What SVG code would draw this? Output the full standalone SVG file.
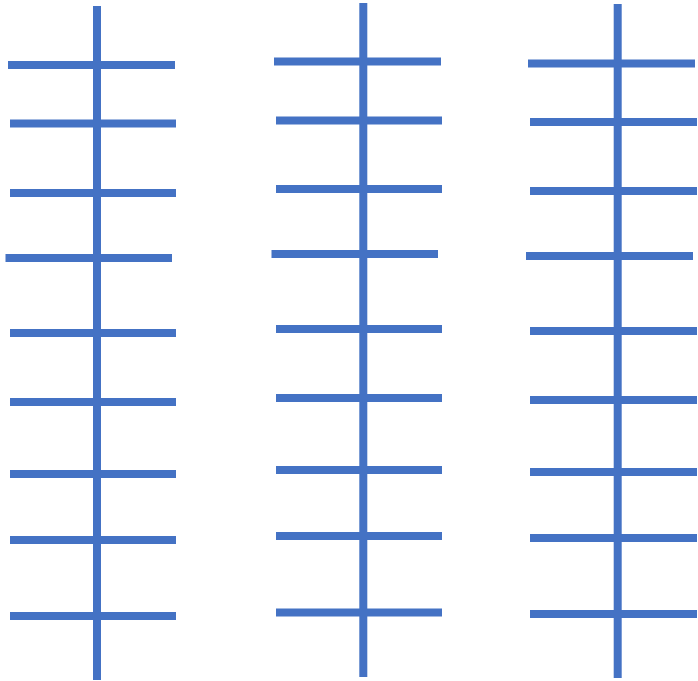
<svg xmlns="http://www.w3.org/2000/svg" width="698" height="681" viewBox="0 0 698 681">
<style>
line{stroke:#4472C4;stroke-width:8;stroke-linecap:butt}
</style>
<rect width="698" height="681" fill="#fff"/>
<g id="ladder1">
<line x1="97" y1="6" x2="97" y2="680"/>
<line x1="8" y1="65" x2="175" y2="65"/>
<line x1="10" y1="123.5" x2="176" y2="123.5"/>
<line x1="10" y1="193" x2="176" y2="193"/>
<line x1="5.5" y1="258" x2="172" y2="258"/>
<line x1="10" y1="333" x2="176" y2="333"/>
<line x1="10" y1="402" x2="176" y2="402"/>
<line x1="10" y1="474" x2="176" y2="474"/>
<line x1="10" y1="540" x2="176" y2="540"/>
<line x1="10" y1="616" x2="176" y2="616"/>
</g>
<g id="ladder2">
<line x1="363.3" y1="3" x2="363.3" y2="677"/>
<line x1="274" y1="61.5" x2="441" y2="61.5"/>
<line x1="276" y1="120.5" x2="442" y2="120.5"/>
<line x1="276" y1="189" x2="442" y2="189"/>
<line x1="271.5" y1="254" x2="438" y2="254"/>
<line x1="276" y1="329" x2="442" y2="329"/>
<line x1="276" y1="398" x2="442" y2="398"/>
<line x1="276" y1="470" x2="442" y2="470"/>
<line x1="276" y1="536" x2="442" y2="536"/>
<line x1="276" y1="612.5" x2="442" y2="612.5"/>
</g>
<g id="ladder3">
<line x1="617.7" y1="4" x2="617.7" y2="678"/>
<line x1="528" y1="63.5" x2="695" y2="63.5"/>
<line x1="530" y1="122" x2="697" y2="122"/>
<line x1="530" y1="191" x2="697" y2="191"/>
<line x1="526" y1="256" x2="693" y2="256"/>
<line x1="530" y1="331" x2="697" y2="331"/>
<line x1="530" y1="400" x2="697" y2="400"/>
<line x1="530" y1="472" x2="697" y2="472"/>
<line x1="530" y1="538" x2="697" y2="538"/>
<line x1="530" y1="614" x2="697" y2="614"/>
</g>
</svg>
